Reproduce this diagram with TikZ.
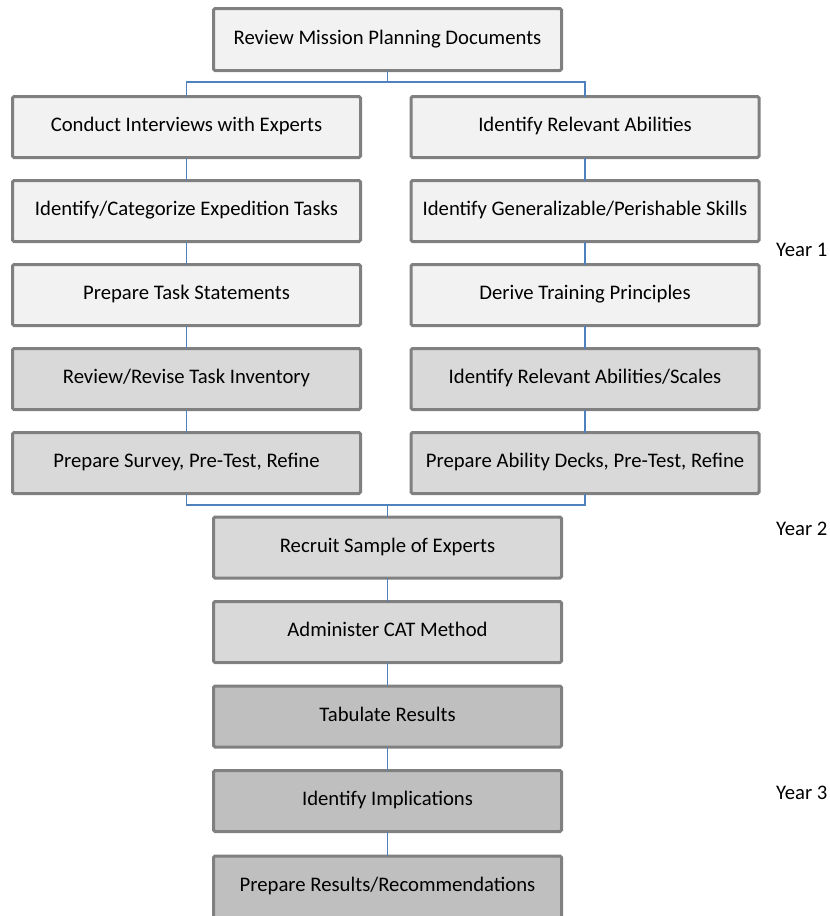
\documentclass[tikz,border=0pt]{standalone}
\usepackage{fontspec}
\setmainfont{Carlito}
\definecolor{boxlight}{HTML}{F2F2F2}
\definecolor{boxmid}{HTML}{D9D9D9}
\definecolor{boxdark}{HTML}{BFBFBF}
\definecolor{boxedge}{HTML}{808080}
\definecolor{connblue}{HTML}{4F81BD}
\begin{document}
\begin{tikzpicture}[x=1pt,y=-1pt,
  stepbox/.style={draw=boxedge, line width=3pt, rounded corners=1.5pt,
    minimum width=348pt, minimum height=61pt, inner sep=0pt, outer sep=0pt,
    text height=13.5pt, text depth=4.5pt,
    font=\fontsize{20.7}{24}\selectfont},
  lightbox/.style={stepbox, fill=boxlight},
  midbox/.style={stepbox, fill=boxmid},
  darkbox/.style={stepbox, fill=boxdark},
  conn/.style={draw=connblue, line width=1.1pt},
  yearlbl/.style={anchor=west, inner sep=0pt, font=\fontsize{20.7}{24}\selectfont}]
\useasboundingbox (0,0) rectangle (830,916);

% top
\node[lightbox, minimum height=62pt] (top) at (387.5,39.5) {Review Mission Planning Documents};

% left column
\node[lightbox] (l1) at (186.5,127) {Conduct Interviews with Experts};
\node[lightbox] (l2) at (186.5,211) {Identify/Categorize Expedition Tasks};
\node[lightbox] (l3) at (186.5,295) {Prepare Task Statements};
\node[midbox]   (l4) at (186.5,379) {Review/Revise Task Inventory};
\node[midbox]   (l5) at (186.5,463) {Prepare Survey, Pre-Test, Refine};

% right column
\node[lightbox] (r1) at (585,127) {Identify Relevant Abilities};
\node[lightbox] (r2) at (585,211) {Identify Generalizable/Perishable Skills};
\node[lightbox] (r3) at (585,295) {Derive Training Principles};
\node[midbox]   (r4) at (585,379) {Identify Relevant Abilities/Scales};
\node[midbox]   (r5) at (585,463) {Prepare Ability Decks, Pre-Test, Refine};

% centre column
\node[midbox]  (c1) at (387.5,547.5) {Recruit Sample of Experts};
\node[midbox]  (c2) at (387.5,632) {Administer CAT Method};
\node[darkbox] (c3) at (387.5,716.5) {Tabulate Results};
\node[darkbox] (c4) at (387.5,801) {Identify Implications};
\node[darkbox, minimum height=66pt, text depth=9pt] (c5) at (387.5,889) {Prepare Results/Recommendations};

% year labels
\node[yearlbl] (y1) at (776,250) {Year 1};
\node[yearlbl] (y2) at (776,529) {Year 2};
\node[yearlbl] (y3) at (776,793) {Year 3};

% connectors
\coordinate (j1) at (387.5,82);
\coordinate (j2) at (387.5,505);
\draw[conn] (top.south) -- (j1);
\draw[conn] (l1.north) |- (j1) -| (r1.north);
\draw[conn] (l1) -- (l2);
\draw[conn] (l2) -- (l3);
\draw[conn] (l3) -- (l4);
\draw[conn] (l4) -- (l5);
\draw[conn] (r1) -- (r2);
\draw[conn] (r2) -- (r3);
\draw[conn] (r3) -- (r4);
\draw[conn] (r4) -- (r5);
\draw[conn] (l5.south) |- (j2) -| (r5.south);
\draw[conn] (j2) -- (c1.north);
\draw[conn] (c1) -- (c2);
\draw[conn] (c2) -- (c3);
\draw[conn] (c3) -- (c4);
\draw[conn] (c4.south) -- (c5.north);
\end{tikzpicture}
\end{document}
